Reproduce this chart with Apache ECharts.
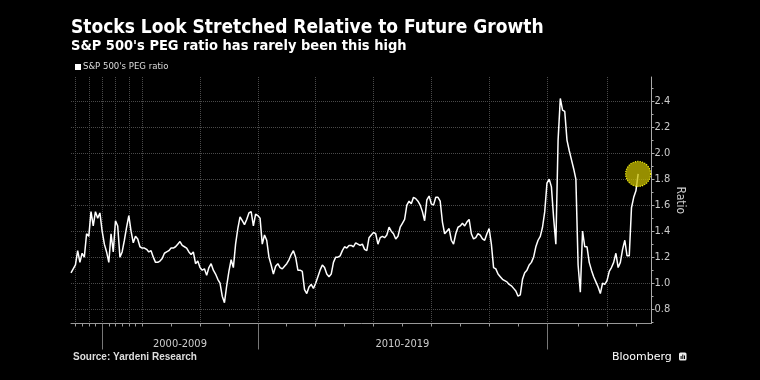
<!DOCTYPE html>
<html><head><meta charset="utf-8">
<script src="https://cdn.jsdelivr.net/npm/echarts@6/dist/echarts.min.js"></script>
<style>html,body{margin:0;padding:0;background:#000;}#chart{width:760px;height:380px;}</style>
</head><body><div id="chart"></div>
<script>
const titleText = 'Stocks Look Stretched Relative to Future Growth';
const subtitleText = "S&P 500's PEG ratio has rarely been this high";
const seriesName = "S&P 500's PEG ratio";
const sourceText = 'Source: Yardeni Research';
const axisName = 'Ratio';
const brandText = 'Bloomberg';

// Early era: one reading every 4 months (Jan / May / Sep), from May 1995
const periodOneStart = '1995-05-01';
const periodOneValues = [1.08,1.11,1.14,1.25,1.16,1.23,1.20,1.38,1.36,1.55,1.44,1.55,1.50,1.54,1.40,1.30,1.24,1.16,1.38,1.24,1.48,1.44,1.20,1.24,1.33,1.43,1.52,1.40,1.31,1.36,1.34,1.28];

// Later era: one reading every 4 weeks, from 5 Jan 2006
const periodTwoStart = '2006-01-05';
const periodTwoValues = [
1.27,1.27,1.26,1.24,1.25,1.20,1.16,1.16,1.17,1.19,
1.23,1.24,1.25,1.27,1.27,1.28,1.30,1.32,1.29,1.28,
1.27,1.24,1.22,1.24,1.15,1.17,1.12,1.10,1.11,1.06,
1.12,1.15,1.10,1.07,1.03,1.00,0.90,0.85,0.98,1.09,
1.18,1.12,1.30,1.42,1.51,1.48,1.45,1.49,1.54,1.55,
1.44,1.53,1.52,1.50,1.30,1.37,1.33,1.20,1.14,1.07,
1.13,1.15,1.12,1.11,1.13,1.15,1.18,1.22,1.25,1.20,
1.10,1.10,1.09,0.95,0.92,0.97,0.99,0.96,1.00,1.05,
1.10,1.14,1.12,1.07,1.05,1.07,1.16,1.20,1.20,1.21,
1.25,1.28,1.27,1.29,1.29,1.28,1.31,1.30,1.29,1.30,
1.26,1.25,1.35,1.37,1.39,1.38,1.30,1.35,1.36,1.35,
1.37,1.43,1.40,1.38,1.34,1.36,1.43,1.46,1.49,1.60,
1.63,1.61,1.66,1.65,1.63,1.60,1.55,1.48,1.64,1.67,
1.61,1.60,1.66,1.66,1.63,1.47,1.38,1.40,1.42,1.33,
1.30,1.38,1.43,1.44,1.46,1.44,1.47,1.49,1.38,1.34,
1.35,1.38,1.37,1.34,1.33,1.38,1.42,1.30,1.12,1.11,
1.07,1.05,1.03,1.02,1.01,0.99,0.98,0.96,0.94,0.90,
0.91,1.03,1.08,1.10,1.14,1.16,1.20,1.28,1.33,1.36,
1.43,1.55,1.77,1.80,1.74,1.50,1.30,2.10,2.42,2.33,
2.32,2.10,2.02,1.95,1.88,1.80,1.14,0.93,1.40,1.28,
1.28,1.16,1.10,1.05,1.01,0.97,0.92,1.00,0.99,1.02,
1.09,1.12,1.16,1.23,1.12,1.16,1.26,1.33,1.21,1.21,
1.58,1.66,1.71,1.84];
const trailingSlots = 6; // axis runs a little past the last reading

const yTickValues = [0.8,1.0,1.2,1.4,1.6,1.8,2.0,2.2,2.4];
const yMinorValues = [0.7,0.9,1.1,1.3,1.5,1.7,1.9,2.1,2.3,2.5];
const yMin = 0.69, yMax = 2.585;

// ---- build categories ----
const DAY = 86400000;
const dates = [];
const p1 = new Date(periodOneStart + 'T00:00:00Z');
for (let k = 0; k < periodOneValues.length; k++) {
  dates.push(new Date(Date.UTC(p1.getUTCFullYear(), p1.getUTCMonth() + 4 * k, 1)));
}
const p2 = Date.parse(periodTwoStart + 'T00:00:00Z');
for (let j = 0; j < periodTwoValues.length + trailingSlots; j++) {
  dates.push(new Date(p2 + j * 28 * DAY));
}
const categories = dates.map(d => d.toISOString().slice(0, 10));
const values = periodOneValues.concat(periodTwoValues);

function yearStartAt(d) {
  const t = d.getTime(), y = d.getUTCFullYear();
  const a = Date.UTC(y, 0, 1), b = Date.UTC(y + 1, 0, 1);
  if (t - a <= 14 * DAY) return y;
  if (b - t < 14 * DAY) return y + 1;
  return null;
}
const yearAt = dates.map(yearStartAt);
const decadeIdx = {};
yearAt.forEach((y, i) => { if (y !== null && y % 10 === 0) decadeIdx[y] = i; });
const decadeLabelAt = {};
Object.keys(decadeIdx).forEach(k => {
  const d = +k;
  if (decadeIdx[d + 10] !== undefined) {
    decadeLabelAt[Math.round((decadeIdx[d] + decadeIdx[d + 10]) / 2)] = d + '-' + (d + 9);
  }
});
const lastIdx = values.length - 1;

const FONT = "'DejaVu Sans Condensed', 'DejaVu Sans', sans-serif";
const chart = echarts.init(document.getElementById('chart'), null, {renderer: 'canvas'});
chart.setOption({
  backgroundColor: '#000',
  animation: false,
  textStyle: {fontFamily: FONT},
  grid: {left: 71, right: 108.5, top: 77, bottom: 56.5, containLabel: false},
  legend: {
    data: [seriesName], left: 75, top: 62, padding: 0, icon: 'rect',
    itemWidth: 6, itemHeight: 6, selectedMode: false,
    textStyle: {color: '#ddd', fontSize: 9.5, fontFamily: FONT, padding: [0, 0, 0, -3]}
  },
  xAxis: [{
    type: 'category', data: categories, boundaryGap: false,
    axisLine: {show: true, onZero: false, lineStyle: {color: '#999', width: 1}},
    axisTick: {show: true, length: 3, interval: (i) => yearAt[i] !== null, lineStyle: {color: '#999'}},
    axisLabel: {show: false},
    splitLine: {show: true, interval: (i) => yearAt[i] !== null && yearAt[i] % 2 === 0,
      lineStyle: {color: '#4a4a4a', type: 'dotted', width: 1}}
  }, {
    type: 'category', data: categories, boundaryGap: false, position: 'bottom',
    axisLine: {show: false, onZero: false},
    axisTick: {show: true, length: 26, interval: (i) => yearAt[i] !== null && yearAt[i] % 10 === 0,
      lineStyle: {color: '#777'}},
    axisLabel: {show: true, interval: (i) => decadeLabelAt[i] !== undefined,
      formatter: (v, i) => decadeLabelAt[i] || '', color: '#ccc', fontSize: 11, margin: 15, fontFamily: FONT},
    splitLine: {show: false}
  }],
  yAxis: [{
    type: 'value', position: 'right', min: yMin, max: yMax,
    name: axisName, nameLocation: 'middle', nameRotate: -90, nameGap: 23, nameMoveOverlap: false,
    nameTextStyle: {color: '#ccc', fontSize: 12, fontFamily: FONT},
    axisLine: {show: true, lineStyle: {color: '#aaa'}},
    axisTick: {show: true, length: 3, customValues: yTickValues, lineStyle: {color: '#aaa'}},
    axisLabel: {show: true, customValues: yTickValues, formatter: v => v.toFixed(1),
      color: '#ccc', fontSize: 11, margin: 3, fontFamily: FONT},
    splitLine: {show: true, lineStyle: {color: '#4a4a4a', type: 'dotted', width: 1}}
  }, {
    type: 'value', position: 'right', min: yMin, max: yMax,
    axisLine: {show: false},
    axisTick: {show: true, length: 2, customValues: yMinorValues, lineStyle: {color: '#aaa'}},
    axisLabel: {show: false},
    splitLine: {show: false}
  }],
  series: [{
    name: seriesName, type: 'line', data: values, xAxisIndex: 0, yAxisIndex: 0,
    showSymbol: false, symbol: 'none',
    lineStyle: {color: '#fff', width: 1.5}, itemStyle: {color: '#fff'},
    markPoint: {
      symbol: 'circle', symbolSize: 25, silent: true, label: {show: false},
      itemStyle: {color: 'rgba(200,190,0,0.75)', borderColor: '#f2ee10', borderWidth: 1.2, borderType: 'dotted'},
      data: [{coord: [categories[lastIdx], values[lastIdx]]}]
    }
  }],
  graphic: [
    {type: 'text', x: 71, y: 28.4, style: {text: titleText, fill: '#fff', font: "bold 19px " + FONT, verticalAlign: 'middle', align: 'left'}},
    {type: 'text', x: 71, y: 46.7, style: {text: subtitleText, fill: '#fff', font: "bold 14.5px " + FONT, verticalAlign: 'middle', align: 'left'}},
    {type: 'text', x: 73, y: 357.5, style: {text: sourceText, fill: '#ddd', font: "bold 10px 'Liberation Sans', sans-serif", verticalAlign: 'middle', align: 'left'}},
    {type: 'text', x: 612, y: 357, style: {text: brandText, fill: '#fff', font: "11px 'DejaVu Sans', sans-serif", verticalAlign: 'middle', align: 'left'}},
    {type: 'rect', shape: {x: 679, y: 352.5, width: 7.5, height: 8, r: 1.5}, style: {fill: '#eee'}},
    {type: 'rect', shape: {x: 680.6, y: 356, width: 1, height: 3}, style: {fill: '#000'}},
    {type: 'rect', shape: {x: 682.3, y: 354.5, width: 1, height: 4.5}, style: {fill: '#000'}},
    {type: 'rect', shape: {x: 684, y: 355.5, width: 1, height: 3.5}, style: {fill: '#000'}}
  ]
});
</script>
</body></html>
